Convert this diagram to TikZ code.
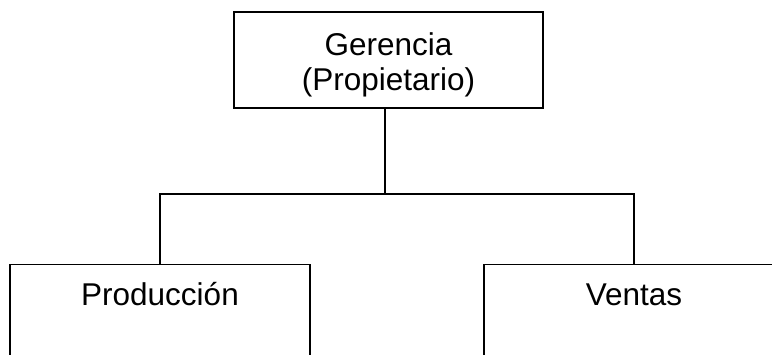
\documentclass[tikz,border=0pt]{standalone}
\usepackage{fontspec}
\setmainfont{Liberation Sans}
\usetikzlibrary{positioning}

\begin{document}
\begin{tikzpicture}[x=1pt, y=1pt,
    orgbox/.style={draw, line width=1.3pt, inner sep=0pt, align=center,
        font=\fontsize{31.5pt}{35pt}\selectfont},
    link/.style={line width=1.3pt}]
    \useasboundingbox (0,0) rectangle (772,354);
    \clip (0,0) rectangle (772,354);

    % Top box
    \node[orgbox, minimum width=309pt, minimum height=96pt] (ger) at (388.5,294)
        {\rule{0pt}{32pt}Gerencia\\(Propietario)};

    % Bottom boxes (cut by the page edge)
    \node[orgbox, anchor=north, minimum width=300pt, text height=41pt, text depth=70pt]
        (prod) at (160,90) {Producción};
    \node[orgbox, anchor=north, minimum width=300pt, text height=41pt, text depth=70pt]
        (vent) at (634,90) {Ventas};

    % Connectors
    \coordinate (junc) at (385,160);
    \draw[link] (ger.south -| junc) -- (junc);
    \draw[link] (prod.north) |- (junc) -| (vent.north);
\end{tikzpicture}
\end{document}
